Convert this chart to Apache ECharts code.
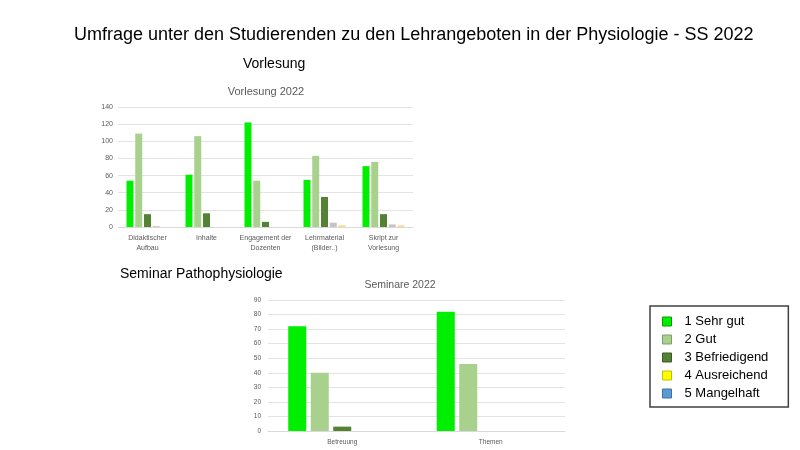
<!DOCTYPE html>
<html>
<head>
<meta charset="utf-8">
<script src="https://cdn.jsdelivr.net/npm/echarts@6/dist/echarts.min.js"></script>
<style>
  html, body { margin: 0; padding: 0; background: #fff; }
  #chart { width: 800px; height: 450px; }
</style>
</head>
<body>
<div id="chart"></div>
<script>
// Noten (Legende)
var grades = ['1 Sehr gut', '2 Gut', '3 Befriedigend', '4 Ausreichend', '5 Mangelhaft'];
var legendColors = ['#00ee00', '#a9d18e', '#548235', '#ffff00', '#5b9bd5'];
var legendBorders = ['#00a000', '#7f9f6a', '#3a5c25', '#c0c000', '#41719c'];

// Vorlesung 2022
var lectureCats = ['Didaktischer\nAufbau', 'Inhalte', 'Engagement der\nDozenten', 'Lehrmaterial\n(Bilder..)', 'Skript zur\nVorlesung'];
var lecture1 = [54, 61, 122, 55, 71];
var lecture2 = [109, 106, 54, 83, 76];
var lecture3 = [15, 16, 6, 35, 15];
var lecture4 = [1, 0, 0, 5, 3];
var lecture5 = [0, 0, 0, 2, 2];
var lectureColors = ['#00ee00', '#a9d18e', '#548235', '#c4c4c4', '#ffd98a'];

// Seminare 2022
var seminarCats = ['Betreuung', 'Themen'];
var seminar1 = [72, 82];
var seminar2 = [40, 46];
var seminar3 = [3, 0];
var seminar4 = [0, 0];
var seminar5 = [0, 0];
var seminarColors = ['#00ee00', '#a9d18e', '#548235', '#ffff00', '#5b9bd5'];

var font = 'Liberation Sans';
var grey = '#595959';

var chart = echarts.init(document.getElementById('chart'));

function barSeries(name, data, color, idx, width, gap) {
  return {
    name: name,
    type: 'bar',
    xAxisIndex: idx,
    yAxisIndex: idx,
    data: data,
    barWidth: width,
    barGap: gap,
    itemStyle: {color: color},
    emphasis: {disabled: true},
  };
}

var lectureData = [lecture1, lecture2, lecture3, lecture4, lecture5];
var seminarData = [seminar1, seminar2, seminar3, seminar4, seminar5];
var series = [];
grades.forEach(function (g, i) {
  series.push(barSeries(g, lectureData[i], lectureColors[i], 0, 7, '25%'));
});
grades.forEach(function (g, i) {
  series.push(barSeries(g, seminarData[i], seminarColors[i], 1, 18, '25%'));
});

chart.setOption({
  animation: false,
  textStyle: {fontFamily: font},
  title: [
    {
      text: 'Umfrage unter den Studierenden zu den Lehrangeboten in der Physiologie - SS 2022',
      left: 69, top: 21,
      textStyle: {fontSize: 18, fontWeight: 'normal', color: '#000', fontFamily: font},
    },
    {
      text: 'Vorlesung', left: 238, top: 52,
      textStyle: {fontSize: 14, fontWeight: 'normal', color: '#000', fontFamily: font},
    },
    {
      text: 'Seminar Pathophysiologie', left: 115, top: 262,
      textStyle: {fontSize: 14, fontWeight: 'normal', color: '#000', fontFamily: font},
    },
    {
      text: 'Vorlesung 2022', left: 261, top: 81, textAlign: 'center',
      textStyle: {fontSize: 11, fontWeight: 'normal', color: grey, fontFamily: font},
    },
    {
      text: 'Seminare 2022', left: 395, top: 275, textAlign: 'center',
      textStyle: {fontSize: 10.5, fontWeight: 'normal', color: grey, fontFamily: font},
    },
  ],
  legend: {
    orient: 'vertical',
    left: 650, top: 306,
    borderColor: '#404040', borderWidth: 1.5,
    padding: [9, 20, 7, 12],
    itemWidth: 9, itemHeight: 9, itemGap: 5,
    icon: 'rect',
    selectedMode: false,
    textStyle: {fontSize: 13, color: '#000', padding: [0, 0, 0, 8], fontFamily: font},
    data: grades.map(function (g, i) {
      return {name: g, itemStyle: {color: legendColors[i], borderColor: legendBorders[i], borderWidth: 1}};
    }),
  },
  grid: [
    {left: 118, right: 387, top: 107, bottom: 223, containLabel: false},
    {left: 268, right: 235, top: 300, bottom: 19, containLabel: false},
  ],
  xAxis: [
    {
      type: 'category', gridIndex: 0, data: lectureCats,
      axisLine: {lineStyle: {color: '#d9d9d9'}}, axisTick: {show: false},
      axisLabel: {color: grey, fontSize: 7, lineHeight: 10, interval: 0, margin: 6},
    },
    {
      type: 'category', gridIndex: 1, data: seminarCats,
      axisLine: {lineStyle: {color: '#d9d9d9'}}, axisTick: {show: false},
      axisLabel: {color: grey, fontSize: 6.5, interval: 0, margin: 8},
    },
  ],
  yAxis: [
    {
      type: 'value', gridIndex: 0, min: 0, max: 140, interval: 20,
      axisLabel: {color: grey, fontSize: 7, margin: 5},
      splitLine: {lineStyle: {color: '#e3e3e3'}},
    },
    {
      type: 'value', gridIndex: 1, min: 0, max: 90, interval: 10,
      axisLabel: {color: grey, fontSize: 6.5, margin: 7},
      splitLine: {lineStyle: {color: '#e3e3e3'}},
    },
  ],
  series: series,
});
</script>
</body>
</html>
